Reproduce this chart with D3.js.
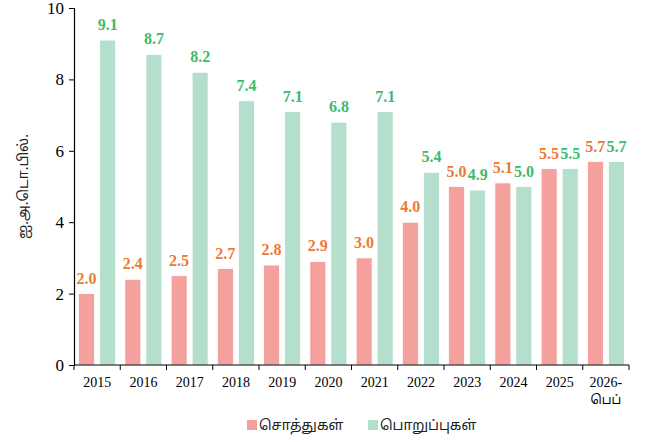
<!DOCTYPE html>
<html>
<head>
<meta charset="utf-8">
<script src="https://cdn.jsdelivr.net/npm/d3@7"></script>
<style>
  body { margin: 0; background: #fff; }
  svg { display: block; }
</style>
</head>
<body>
<svg id="chart" width="647" height="442"></svg>
<script>
// Assets and liabilities by year (US$ bn)
const categories = ["2015","2016","2017","2018","2019","2020","2021","2022","2023","2024","2025","2026-\nபெப்"];
const assets      = [2.0, 2.4, 2.5, 2.7, 2.8, 2.9, 3.0, 4.0, 5.0, 5.1, 5.5, 5.7];
const liabilities = [9.1, 8.7, 8.2, 7.4, 7.1, 6.8, 7.1, 5.4, 4.9, 5.0, 5.5, 5.7];
const seriesNames = ["சொத்துகள்", "பொறுப்புகள்"];
const yTicks = [0, 2, 4, 6, 8, 10];
const yTitle = "ஐ.அ.டொ.பில்.";

const barColors = ["#F4A19D", "#B3DFCC"];
const labelColors = ["#EC7A35", "#3DBB6C"];
const serif = "'Liberation Serif', 'Times New Roman', serif";
const tamil = "'Noto Sans Tamil', 'Latha', sans-serif";

const svg = d3.select("#chart");
const m = { left: 74, right: 18, top: 8, bottom: 77 };
const W = 647, H = 442;

const x = d3.scaleBand().domain(d3.range(categories.length))
  .range([m.left, W - m.right]).paddingInner(0).paddingOuter(0);
const inner = d3.scaleBand().domain([0, 1])
  .range([0, x.bandwidth()]).paddingInner(0.24).paddingOuter(0.22);
const y = d3.scaleLinear().domain([0, 10]).range([H - m.bottom, m.top]);

const series = [assets, liabilities];

// bars
series.forEach((vals, s) => {
  svg.append("g").selectAll("rect").data(vals).join("rect")
    .attr("x", (d, i) => x(i) + inner(s))
    .attr("y", d => y(d))
    .attr("width", inner.bandwidth())
    .attr("height", d => y(0) - y(d))
    .attr("fill", barColors[s])
    .attr("stroke", "#fff")
    .attr("stroke-width", 0.8);
});

// value labels
series.forEach((vals, s) => {
  svg.append("g").selectAll("text").data(vals).join("text")
    .attr("x", (d, i) => x(i) + inner(s) + inner.bandwidth() / 2)
    .attr("y", d => y(d) - 10)
    .attr("text-anchor", "middle")
    .attr("font-family", serif)
    .attr("font-weight", "bold")
    .attr("font-size", 16)
    .attr("fill", labelColors[s])
    .text(d => d.toFixed(1));
});

// y axis
const yAxis = svg.append("g").attr("transform", `translate(${m.left},0)`)
  .call(d3.axisLeft(y).tickValues(yTicks).tickSize(5).tickFormat(d3.format("d")));
yAxis.select(".domain").attr("stroke", "#000").attr("stroke-width", 1.2);
yAxis.selectAll(".tick line").attr("stroke", "#000");
yAxis.selectAll("text").attr("font-family", serif).attr("font-size", 17)
  .attr("fill", "#000").attr("dx", "-2");

// x axis with ticks at band edges
const xAxisG = svg.append("g").attr("transform", `translate(0,${y(0)})`);
xAxisG.append("line").attr("x1", m.left).attr("x2", W - m.right)
  .attr("stroke", "#000").attr("stroke-width", 1.2);
xAxisG.selectAll("line.tk").data(d3.range(categories.length + 1)).join("line")
  .attr("class", "tk")
  .attr("x1", i => m.left + i * x.bandwidth())
  .attr("x2", i => m.left + i * x.bandwidth())
  .attr("y1", 0).attr("y2", 5).attr("stroke", "#000");
xAxisG.selectAll("text").data(categories).join("text")
  .attr("text-anchor", "middle")
  .attr("font-size", 14).attr("fill", "#000")
  .each(function (d, i) {
    const t = d3.select(this);
    d.split("\n").forEach((line, k) => {
      t.append("tspan").attr("x", x(i) + x.bandwidth() / 2)
        .attr("y", 22 + k * 17)
        .attr("font-family", k === 0 ? serif : tamil)
        .attr("font-size", k === 0 ? 14 : 12.5)
        .text(line);
    });
  });

// y axis title
svg.append("text")
  .attr("transform", `translate(28,${(y(0) + y(10)) / 2}) rotate(-90)`)
  .attr("text-anchor", "middle")
  .attr("font-family", tamil)
  .attr("font-size", 14).attr("fill", "#222")
  .text(yTitle);

// legend
const legendX = [247, 368];
seriesNames.forEach((name, s) => {
  const g = svg.append("g").attr("transform", `translate(${legendX[s]},426)`);
  g.append("rect").attr("x", 0).attr("y", -6).attr("width", 10).attr("height", 10)
    .attr("fill", barColors[s]);
  g.append("text").attr("x", 12).attr("y", 4)
    .attr("font-family", tamil)
    .attr("font-size", 14).attr("fill", "#222").text(name);
});
</script>
</body>
</html>
